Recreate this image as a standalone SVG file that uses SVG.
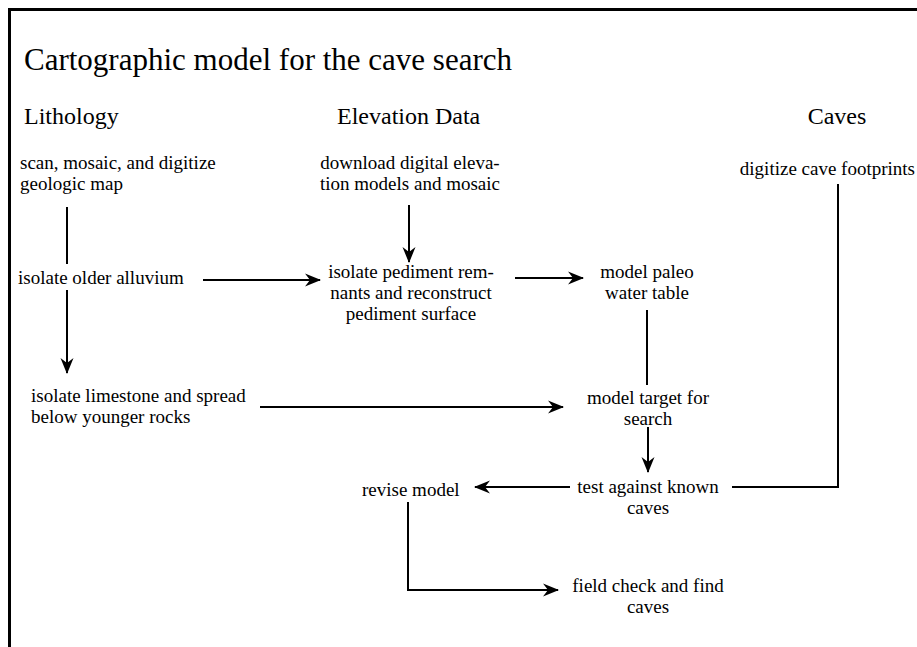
<svg xmlns="http://www.w3.org/2000/svg" width="917" height="647" viewBox="0 0 917 647">
  <style>
    text { fill: #000; font-family: "Liberation Serif", "DejaVu Serif", serif; }
    .title { font-size: 31px; }
    .head { font-size: 24px; }
    .body { font-size: 19px; }
    .mid { text-anchor: middle; }
    .end { text-anchor: end; }
    .wire { fill: none; stroke: #000; stroke-width: 2; }
    .frame { fill: none; stroke: #000; stroke-width: 3; }
  </style>
  <defs>
    <marker id="arrow" viewBox="-16 -7 18 14" refX="0" refY="0" markerWidth="18" markerHeight="14" markerUnits="userSpaceOnUse" orient="auto">
      <path d="M1,0 L-15,-6.5 L-10,0 L-15,6.5 Z" fill="#000"/>
    </marker>
  </defs>

  <rect width="917" height="647" fill="#fff"/>
  <!-- open frame: left and top edges only -->
  <path class="frame" d="M9.5,647 V9.5 H917"/>

  <text class="title" x="24" y="70">Cartographic model for the cave search</text>
  <text class="head" x="24" y="124">Lithology</text>
  <text class="head" x="337" y="124">Elevation Data</text>
  <text class="head mid" x="837" y="124">Caves</text>

  <g id="connectors">
    <line class="wire" x1="67" y1="207" x2="67" y2="264"/>
    <line class="wire" x1="203" y1="280" x2="320" y2="280" marker-end="url(#arrow)"/>
    <line class="wire" x1="409" y1="205" x2="409" y2="262" marker-end="url(#arrow)"/>
    <line class="wire" x1="67" y1="290" x2="67" y2="373" marker-end="url(#arrow)"/>
    <line class="wire" x1="515" y1="278" x2="583" y2="278" marker-end="url(#arrow)"/>
    <line class="wire" x1="647" y1="310" x2="647" y2="385"/>
    <line class="wire" x1="260" y1="407" x2="563" y2="407" marker-end="url(#arrow)"/>
    <line class="wire" x1="648" y1="427" x2="648" y2="472" marker-end="url(#arrow)"/>
    <line class="wire" x1="570" y1="487" x2="475" y2="487" marker-end="url(#arrow)"/>
    <polyline class="wire" points="732,487 838,487 838,184"/>
    <polyline class="wire" points="408,502 408,590 558,590" marker-end="url(#arrow)"/>
  </g>

  <g id="scan-map">
    <text class="body" x="20" y="169">scan, mosaic, and digitize</text>
    <text class="body" x="20" y="190">geologic map</text>
  </g>
  <g id="download-dem">
    <text class="body mid" x="410" y="169">download digital eleva-</text>
    <text class="body mid" x="410" y="190">tion models and mosaic</text>
  </g>
  <g id="digitize-caves">
    <text class="body end" x="915" y="175">digitize cave footprints</text>
  </g>
  <g id="older-alluvium">
    <text class="body" x="18" y="284">isolate older alluvium</text>
  </g>
  <g id="pediment">
    <text class="body mid" x="411" y="278">isolate pediment rem-</text>
    <text class="body mid" x="411" y="299">nants and reconstruct</text>
    <text class="body mid" x="411" y="320">pediment surface</text>
  </g>
  <g id="paleo-water">
    <text class="body mid" x="647" y="278">model paleo</text>
    <text class="body mid" x="647" y="299">water table</text>
  </g>
  <g id="limestone">
    <text class="body" x="31" y="402">isolate limestone and spread</text>
    <text class="body" x="31" y="423">below younger rocks</text>
  </g>
  <g id="target">
    <text class="body mid" x="648" y="404">model target for</text>
    <text class="body mid" x="648" y="425">search</text>
  </g>
  <g id="test-known">
    <text class="body mid" x="648" y="493">test against known</text>
    <text class="body mid" x="648" y="514">caves</text>
  </g>
  <g id="revise">
    <text class="body" x="362" y="496">revise model</text>
  </g>
  <g id="field-check">
    <text class="body mid" x="648" y="592">field check and find</text>
    <text class="body mid" x="648" y="613">caves</text>
  </g>
</svg>
